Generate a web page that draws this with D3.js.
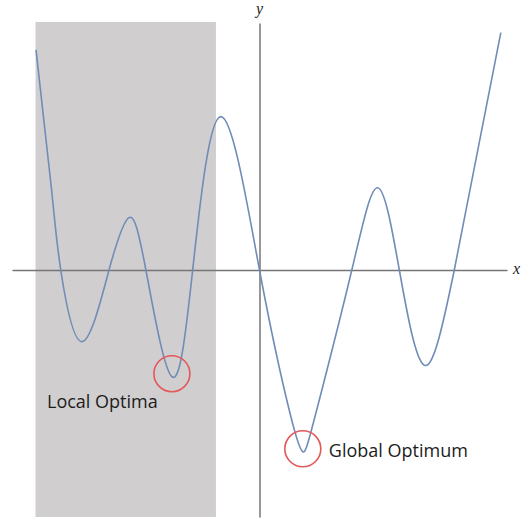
<!DOCTYPE html>
<html>
<head>
<meta charset="utf-8">
<script src="https://cdn.jsdelivr.net/npm/d3@7/dist/d3.min.js"></script>
<style>
  html, body { margin: 0; padding: 0; background: #ffffff; }
  svg { display: block; }
</style>
</head>
<body>
<svg id="chart" width="523" height="521"></svg>
<script>
// Key points of the objective curve: ends, roots, turning points (x, y)
const curveX = [-9.03, -8.40, -8.03, -7.18, -6.08, -5.26, -4.59, -3.54, -2.70,
                -1.56, 0.00, 1.23, 1.75, 2.28, 3.73, 4.78, 5.65, 6.65, 7.87, 9.75];
const curveY = [8.91, 3.24, 0.00, -2.90, 0.00, 2.13, 0.00, -4.32, 0.00,
                6.21, 0.00, -5.79, -7.36, -5.79, 0.00, 3.33, 0.00, -3.85, 0.00, 9.61];

// Highlighted optima
const optimaLabels = ["Local Optima", "Global Optimum"];
const optimaX = [-3.54, 1.75];
const optimaY = [-4.32, -7.36];

// Shaded search region along x
const regionX = [-9.05, -1.76];

// Axis titles
const axisTitles = ["x", "y"];

const svg = d3.select("#chart");

const x = d3.scaleLinear().domain([-10, 10]).range([12, 507]);
const y = d3.scaleLinear().domain([-10, 10]).range([517, 23]);

// Shaded region
svg.append("rect")
  .attr("x", x(regionX[0]))
  .attr("y", y.range()[1] - 1)
  .attr("width", x(regionX[1]) - x(regionX[0]))
  .attr("height", y.range()[0] - y.range()[1] + 1)
  .attr("fill", "#d1cecf");

// Axes through the origin, drawn as bare lines
const xAxis = svg.append("g")
  .attr("transform", `translate(0,${y(0)})`)
  .call(d3.axisBottom(x).tickValues([]).tickSizeOuter(0));
const yAxis = svg.append("g")
  .attr("transform", `translate(${x(0)},0)`)
  .call(d3.axisLeft(y).tickValues([]).tickSizeOuter(0));
[xAxis, yAxis].forEach(g => g.select(".domain")
  .attr("stroke", "#767676")
  .attr("stroke-width", 1.5));

svg.append("text")
  .attr("x", x.range()[1] + 6)
  .attr("y", y(0) + 4)
  .attr("font-family", "'Liberation Serif', 'DejaVu Serif', serif")
  .attr("font-style", "italic")
  .attr("font-size", 16)
  .attr("fill", "#222")
  .text(axisTitles[0]);

svg.append("text")
  .attr("x", x(0))
  .attr("y", y.range()[1] - 9)
  .attr("text-anchor", "middle")
  .attr("font-family", "'Liberation Serif', 'DejaVu Serif', serif")
  .attr("font-style", "italic")
  .attr("font-size", 16)
  .attr("fill", "#222")
  .text(axisTitles[1]);

// Objective curve
const pts = curveX.map((v, i) => [v, curveY[i]]);
const line = d3.line()
  .x(d => x(d[0]))
  .y(d => y(d[1]))
  .curve(d3.curveNatural);

svg.append("path")
  .datum(pts)
  .attr("d", line)
  .attr("fill", "none")
  .attr("stroke", "#6f8db6")
  .attr("stroke-width", 1.6);

// Optima markers
optimaX.forEach((ox, i) => {
  svg.append("circle")
    .attr("cx", x(ox))
    .attr("cy", y(optimaY[i]) - 3)
    .attr("r", 18)
    .attr("fill", "none")
    .attr("stroke", "#e4585a")
    .attr("stroke-width", 1.6);
});

// Optima labels
svg.append("text")
  .attr("x", 47)
  .attr("y", y(optimaY[0]) + 31)
  .attr("font-family", "'Open Sans', 'Noto Sans', sans-serif")
  .attr("font-size", 18)
  .attr("fill", "#1c1c1c")
  .text(optimaLabels[0]);

svg.append("text")
  .attr("x", x(optimaX[1]) + 26)
  .attr("y", y(optimaY[1]) + 5)
  .attr("font-family", "'Open Sans', 'Noto Sans', sans-serif")
  .attr("font-size", 18)
  .attr("fill", "#1c1c1c")
  .text(optimaLabels[1]);
</script>
</body>
</html>
